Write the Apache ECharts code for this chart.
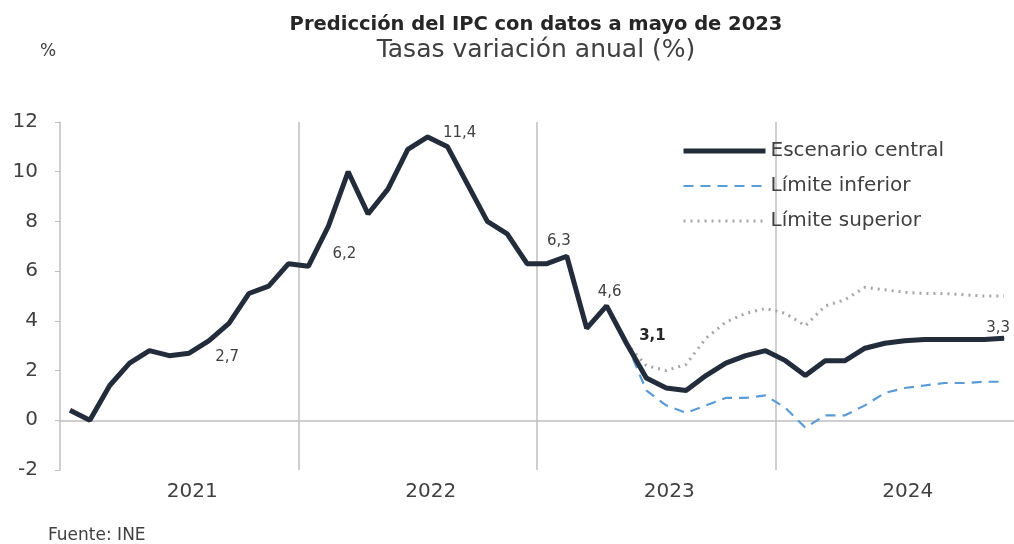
<!DOCTYPE html>
<html>
<head>
<meta charset="utf-8">
<script src="https://cdn.jsdelivr.net/npm/echarts@6/dist/echarts.min.js"></script>
<style>
  html, body { margin: 0; padding: 0; background: #fff; }
  #chart { width: 1014px; height: 544px; }
</style>
</head>
<body>
<div id="chart"></div>
<script>
// datos
const years = ['2021', '2022', '2023', '2024'];
const monthNames = ['ene', 'feb', 'mar', 'abr', 'may', 'jun', 'jul', 'ago', 'sep', 'oct', 'nov', 'dic'];

const central = [
    0.4, 0.0, 1.4, 2.3, 2.8, 2.6, 2.7, 3.2, 3.9, 5.1, 5.4, 6.3,
    6.2, 7.8, 10.0, 8.3, 9.3, 10.9, 11.4, 11.0, 9.5, 8.0, 7.5, 6.3,
    6.3, 6.6, 3.7, 4.6, 3.1, 1.7, 1.3, 1.2, 1.8, 2.3, 2.6, 2.8,
    2.4, 1.8, 2.4, 2.4, 2.9, 3.1, 3.2, 3.25, 3.25, 3.25, 3.25, 3.3
];
// predicciones desde mayo 2023
const lowerForecast = [3.1, 1.2, 0.6, 0.3, 0.6, 0.9, 0.9, 1.0, 0.5, -0.3, 0.2, 0.2, 0.6, 1.1, 1.3, 1.4, 1.5, 1.5, 1.55, 1.55];
const upperForecast = [3.1, 2.2, 2.0, 2.25, 3.3, 3.95, 4.3, 4.5, 4.3, 3.8, 4.6, 4.85, 5.35, 5.25, 5.15, 5.1, 5.1, 5.05, 5.0, 5.0];
// meses etiquetados en el escenario central
const labelledMonths = ['2021-jul', '2022-ene', '2022-jul', '2023-ene', '2023-abr', '2023-may', '2024-dic'];

const months = [];
years.forEach(y => monthNames.forEach(m => months.push(y + '-' + m)));
const pad = new Array(months.length - lowerForecast.length).fill(null);
const lower = pad.concat(lowerForecast);
const upper = pad.concat(upperForecast);

// estilo de las etiquetas (desplazamiento respecto al punto)
const labelStyle = {
    '2021-jul': { offset: [38, 4] },
    '2022-ene': { offset: [36, -12] },
    '2022-jul': { offset: [32, -4] },
    '2023-ene': { offset: [12, -23] },
    '2023-abr': { offset: [3, -14] },
    '2023-may': { offset: [26, -7], fontWeight: 'bold', color: '#262626' },
    '2024-dic': { offset: [-6, -10] }
};

const fmt = v => v.toFixed(1).replace('.', ',');

const centralData = central.map((v, i) => {
    const key = months[i];
    if (!labelledMonths.includes(key)) return v;
    return {
        value: v,
        symbol: 'circle',
        symbolSize: 1,
        label: Object.assign({
            show: true,
            position: 'inside',
            formatter: fmt(v),
            fontFamily: 'DejaVu Sans',
            fontSize: 15,
            color: '#404040'
        }, labelStyle[key])
    };
});

const styles = {
    central: { color: '#232c3a', width: 5, type: 'solid' },
    lower: { color: '#5b9bd5', width: 2.2, type: [10, 7] },
    upper: { color: '#a6a6a6', width: 3, type: [2, 5] }
};

const chart = echarts.init(document.getElementById('chart'));
chart.setOption({
    backgroundColor: '#fff',
    animation: false,
    title: [
        {
            text: 'Predicción del IPC con datos a mayo de 2023',
            left: 536, top: 15, textAlign: 'center', padding: 0,
            textStyle: { fontFamily: 'DejaVu Sans', fontWeight: 'bold', fontSize: 19.5, color: '#262626' }
        },
        {
            text: 'Tasas variación anual (%)',
            left: 536, top: 38, textAlign: 'center', padding: 0,
            textStyle: { fontFamily: 'DejaVu Sans', fontWeight: 'normal', fontSize: 25, color: '#404040' }
        },
        {
            text: '%',
            left: 40, top: 43, padding: 0,
            textStyle: { fontFamily: 'DejaVu Sans', fontWeight: 'normal', fontSize: 17, color: '#404040' }
        },
        {
            text: 'Fuente: INE',
            left: 48, top: 527, padding: 0,
            textStyle: { fontFamily: 'DejaVu Sans', fontWeight: 'normal', fontSize: 17, color: '#404040' }
        }
    ],
    legend: {
        orient: 'vertical',
        left: 676,
        top: 136,
        itemWidth: 82,
        itemHeight: 14,
        itemGap: 15,
        itemStyle: { opacity: 0 },
        textStyle: { fontFamily: 'DejaVu Sans', fontSize: 20, color: '#404040' },
        data: [
            { name: 'Escenario central', lineStyle: styles.central },
            { name: 'Límite inferior', lineStyle: styles.lower },
            { name: 'Límite superior', lineStyle: styles.upper }
        ]
    },
    grid: { left: 60, top: 122, bottom: 74, width: 957 },
    xAxis: [
        {
            type: 'category',
            data: months,
            boundaryGap: true,
            axisLine: { onZero: true, lineStyle: { color: '#bfbfbf', width: 1.5 } },
            axisTick: { show: false },
            axisLabel: { show: false },
            splitLine: { show: false }
        },
        {
            type: 'category',
            data: years,
            position: 'bottom',
            boundaryGap: true,
            axisLine: { show: false, onZero: false },
            axisTick: { show: false },
            axisLabel: {
                fontFamily: 'DejaVu Sans', fontSize: 20, color: '#404040',
                margin: 12, padding: [0, 0, 0, 26]
            },
            splitLine: {
                show: true, showMinLine: false, showMaxLine: false,
                lineStyle: { color: '#bfbfbf', width: 1.5 }
            }
        }
    ],
    yAxis: {
        type: 'value',
        min: -2,
        max: 12,
        interval: 2,
        axisLine: { show: true, lineStyle: { color: '#bfbfbf', width: 1.5 } },
        axisTick: { show: true, length: 5, lineStyle: { color: '#bfbfbf' } },
        axisLabel: { fontFamily: 'DejaVu Sans', fontSize: 20, color: '#404040', margin: 22 },
        splitLine: { show: false }
    },
    series: [
        {
            name: 'Límite superior',
            type: 'line',
            data: upper,
            symbol: 'none',
            lineStyle: styles.upper,
            itemStyle: { color: styles.upper.color },
            z: 2
        },
        {
            name: 'Límite inferior',
            type: 'line',
            data: lower,
            symbol: 'none',
            lineStyle: styles.lower,
            itemStyle: { color: styles.lower.color },
            z: 2
        },
        {
            name: 'Escenario central',
            type: 'line',
            data: centralData,
            symbol: 'none',
            showSymbol: true,
            showAllSymbol: true,
            lineStyle: styles.central,
            itemStyle: { color: styles.central.color },
            z: 3
        }
    ]
});
</script>
</body>
</html>
